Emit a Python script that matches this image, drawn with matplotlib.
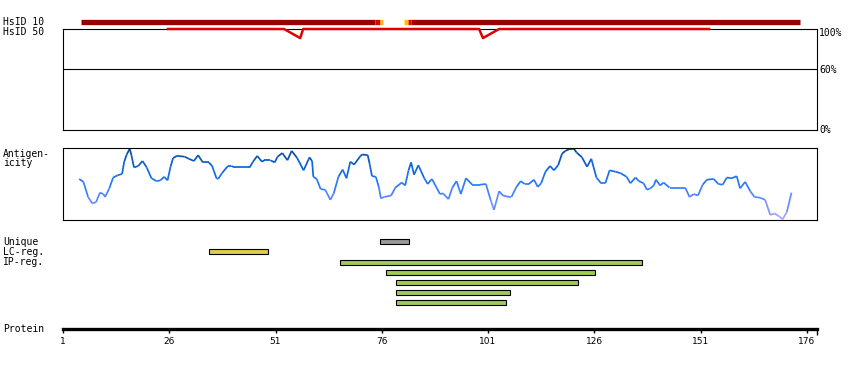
import numpy as np
import matplotlib
matplotlib.use('Agg')
import matplotlib.pyplot as plt
from matplotlib.collections import LineCollection
from matplotlib.colors import LinearSegmentedColormap

W, H = 850, 370
seq_end = 178.4
ticks = [1, 26, 51, 76, 101, 126, 151, 176]

# HsID 10 track (segments along the sequence)
hsid10_start = [5.2, 74.4, 75.6, 81.2, 82.1, 82.9]
hsid10_end = [74.4, 75.6, 76.4, 82.1, 82.9, 174.4]
hsid10_colors = ['#990000', '#e00000', '#ffc000', '#ffc000', '#e00000', '#990000']

# HsID 50 identity (%)
hsid50_pos = [25.7, 53.0, 56.8, 57.5, 98.9, 99.8, 103.6, 153.0]
hsid50_val = [100, 100, 91, 100, 100, 91, 100, 100]

# antigenicity profile (relative score 0-1)
antigen_pos = [4.8, 5.8, 6.9, 7.9, 8.8, 9.7, 10.5, 10.9, 11.9, 12.8, 13.8, 14.9,
               15.4, 16.0, 16.7, 17.1, 17.7, 18.7, 19.7, 20.7, 21.8, 23.0, 23.9,
               24.8, 25.6, 26.3, 26.9, 27.8, 29.6, 30.6, 31.8, 32.8, 33.9, 35.3,
               36.1, 37.1, 37.5, 38.4, 39.8, 40.6, 41.5, 44.9, 45.7, 46.7, 47.8,
               48.4, 49.8, 50.8, 51.5, 52.6, 53.8, 54.8, 56.1, 57.6, 59.0, 59.6,
               59.9, 60.7, 61.6, 62.7, 63.9, 64.7, 65.8, 66.8, 67.7, 68.6, 69.5,
               71.0, 71.4, 72.7, 73.1, 73.7, 74.6, 75.3, 75.8, 76.6, 78.2, 79.2,
               80.7, 81.5, 82.3, 82.9, 83.6, 84.6, 86.0, 86.8, 87.8, 89.7, 90.4,
               91.7, 92.6, 93.6, 94.6, 95.8, 97.3, 99.1, 100.5, 101.6, 102.4, 103.6,
               104.5, 105.9, 106.5, 107.7, 108.7, 109.6, 110.6, 111.8, 112.7, 113.5,
               114.5, 115.6, 116.5, 117.5, 118.4, 119.2, 120.4, 121.2, 121.8, 123.1,
               124.3, 125.3, 126.5, 127.6, 128.6, 129.6, 131.0, 132.2, 133.6, 134.5,
               135.7, 136.5, 137.6, 138.4, 139.2, 140.0, 140.5, 141.5, 142.3, 143.7,
               147.4, 148.4, 149.4, 150.4, 151.5, 152.5, 154.1, 155.2, 156.2, 157.2,
               158.4, 159.5, 160.3, 161.5, 162.7, 163.7, 165.0, 166.2, 167.4, 168.4,
               169.3, 170.3, 171.3, 172.4]
antigen_val = [0.57, 0.53, 0.32, 0.23, 0.25, 0.38, 0.36, 0.32, 0.44, 0.59, 0.62, 0.64,
               0.81, 0.91, 0.99, 0.90, 0.73, 0.75, 0.82, 0.73, 0.58, 0.54, 0.55,
               0.60, 0.55, 0.74, 0.86, 0.89, 0.88, 0.85, 0.82, 0.90, 0.80, 0.80,
               0.75, 0.58, 0.57, 0.65, 0.75, 0.75, 0.73, 0.73, 0.81, 0.89, 0.81,
               0.83, 0.83, 0.80, 0.88, 0.93, 0.83, 0.96, 0.86, 0.69, 0.87, 0.82,
               0.60, 0.57, 0.43, 0.42, 0.28, 0.37, 0.60, 0.70, 0.58, 0.81, 0.77,
               0.89, 0.91, 0.90, 0.79, 0.61, 0.60, 0.46, 0.30, 0.32, 0.34, 0.45,
               0.52, 0.48, 0.69, 0.80, 0.63, 0.76, 0.58, 0.50, 0.57, 0.36, 0.37,
               0.29, 0.45, 0.54, 0.36, 0.58, 0.49, 0.49, 0.50, 0.28, 0.14, 0.40,
               0.34, 0.32, 0.32, 0.46, 0.54, 0.50, 0.50, 0.56, 0.46, 0.51,
               0.67, 0.75, 0.69, 0.76, 0.92, 0.96, 0.99, 0.99, 0.94, 0.87,
               0.74, 0.85, 0.59, 0.51, 0.51, 0.69, 0.67, 0.65, 0.60, 0.51,
               0.59, 0.54, 0.51, 0.42, 0.44, 0.48, 0.56, 0.48, 0.52, 0.45,
               0.45, 0.32, 0.36, 0.34, 0.49, 0.56, 0.57, 0.50, 0.49, 0.59,
               0.58, 0.61, 0.44, 0.53, 0.40, 0.32, 0.31, 0.28, 0.07, 0.09,
               0.06, 0.01, 0.11, 0.38]

# regions
region_labels = ['Unique', 'LC-reg.', 'IP-reg.']
region_rows = [0, 1, 2, 3, 4, 5, 6]
region_start = [75.6, 35.4, 66.1, 77.1, 79.3, 79.3, 79.3]
region_end = [82.4, 49.2, 137.2, 126.2, 122.1, 106.2, 105.2]
region_colors = ['#999999', '#dccf4a', '#a0c85a', '#a0c85a', '#a0c85a', '#a0c85a', '#a0c85a']

mono = 'DejaVu Sans Mono'
fs = 7

fig = plt.figure(figsize=(W / 100, H / 100), dpi=100)


def px_axes(x0, y0, x1, y1):
    return fig.add_axes([x0 / W, 1 - y1 / H, (x1 - x0) / W, (y1 - y0) / H])


def label(y, s):
    fig.text(3 / W, 1 - y / H, s, family=mono, fontsize=fs, va='center', ha='left')


# identity panel
ax1 = px_axes(63, 29, 817, 130)
ax1.set_xlim(1, seq_end)
ax1.set_ylim(0, 100)
ax1.set_xticks([])
ax1.set_yticks([])
for sp in ax1.spines.values():
    sp.set_linewidth(0.8)
ax1.axhline(60, color='black', lw=0.8)
for s, e, c in zip(hsid10_start, hsid10_end, hsid10_colors):
    ax1.plot([s, e], [107, 107], color=c, lw=3.8, solid_capstyle='butt', clip_on=False)
ax1.plot(hsid50_pos, hsid50_val, color='#e00000', lw=1.8, clip_on=False, zorder=5)
for v, s in [(96, '100%'), (59.4, '60%'), (0, '0%')]:
    ax1.text(1.003, v / 100, s, transform=ax1.transAxes, family=mono, fontsize=fs,
             va='center', ha='left')
label(22, 'HsID 10')
label(32, 'HsID 50')

# antigenicity panel
ax2 = px_axes(63, 148, 817, 220)
ax2.set_xlim(1, seq_end)
ax2.set_ylim(0, 1)
ax2.set_xticks([])
ax2.set_yticks([])
for sp in ax2.spines.values():
    sp.set_linewidth(0.8)
cmap = LinearSegmentedColormap.from_list(
    'ag', ['#b4a8ff', '#6a8cff', '#2a7af8', '#0a64dc', '#0a468e'])
pts = np.column_stack([antigen_pos, antigen_val])
segs = np.stack([pts[:-1], pts[1:]], axis=1)
mid = (np.array(antigen_val[:-1]) + np.array(antigen_val[1:])) / 2
lc = LineCollection(segs, cmap=cmap, norm=plt.Normalize(0, 1), linewidths=1.25)
lc.set_array(mid)
ax2.add_collection(lc)
label(154, 'Antigen-')
label(163, 'icity')

# region bars
ax3 = px_axes(63, 237, 817, 307)
ax3.set_xlim(1, seq_end)
ax3.set_ylim(7, 0)
ax3.axis('off')
ax3.barh([r + 0.5 for r in region_rows],
         [e - s for s, e in zip(region_start, region_end)],
         left=region_start, height=0.5, color=region_colors,
         edgecolor='black', linewidth=0.8)
for i, s in enumerate(region_labels):
    label(242 + 10 * i, s)

# protein ruler
ax4 = px_axes(63, 320, 817, 329)
ax4.set_xlim(1, seq_end)
ax4.set_yticks([])
for k in ['top', 'left', 'right']:
    ax4.spines[k].set_visible(False)
ax4.spines['bottom'].set_linewidth(2.4)
ax4.set_xticks(ticks)
ax4.set_xticklabels([str(t) for t in ticks], family='DejaVu Sans', fontsize=6.5)
ax4.tick_params(axis='x', length=3, width=1, pad=3)
ax4.set_xticks([seq_end], minor=True)
ax4.tick_params(axis='x', which='minor', length=4, width=1)
ax4.patch.set_visible(False)
label(329, 'Protein')

fig.savefig('out.png', dpi=100)
